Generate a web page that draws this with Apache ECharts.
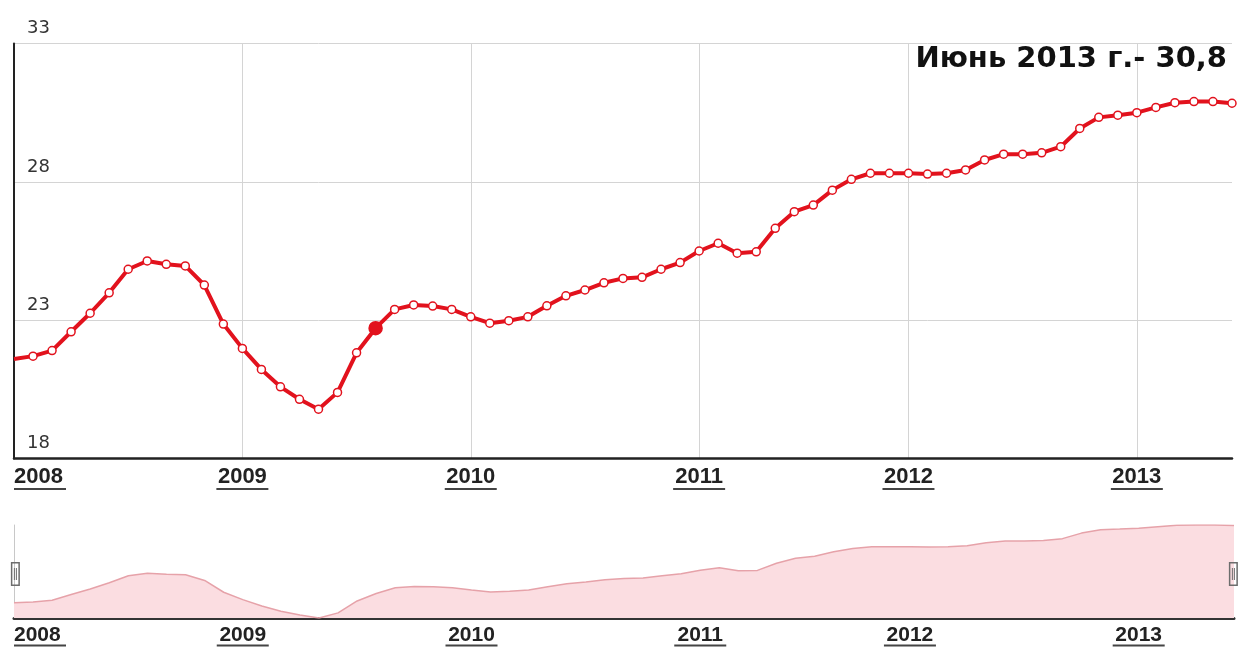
<!DOCTYPE html>
<html>
<head>
<meta charset="utf-8">
<script src="https://cdn.jsdelivr.net/npm/echarts@6/dist/echarts.min.js"></script>
<style>
  html, body { margin: 0; padding: 0; background: #fff; }
  #chart { width: 1239px; height: 648px; }
</style>
</head>
<body>
<div id="chart"></div>
<script>
// месяцы по годам (в 2011 г. на графике 11 точек)
var months2008 = ['2008-01','2008-02','2008-03','2008-04','2008-05','2008-06','2008-07','2008-08','2008-09','2008-10','2008-11','2008-12']
var months2009 = ['2009-01','2009-02','2009-03','2009-04','2009-05','2009-06','2009-07','2009-08','2009-09','2009-10','2009-11','2009-12']
var months2010 = ['2010-01','2010-02','2010-03','2010-04','2010-05','2010-06','2010-07','2010-08','2010-09','2010-10','2010-11','2010-12']
var months2011 = ['2011-01','2011-02','2011-03','2011-04','2011-05','2011-06','2011-07','2011-08','2011-09','2011-10','2011-11']
var months2012 = ['2012-01','2012-02','2012-03','2012-04','2012-05','2012-06','2012-07','2012-08','2012-09','2012-10','2012-11','2012-12']
var months2013 = ['2013-01','2013-02','2013-03','2013-04','2013-05','2013-06']

var values2008 = [21.6, 21.7, 21.9, 22.58, 23.25, 23.99, 24.84, 25.14, 25.02, 24.96, 24.27, 22.86]
var values2009 = [21.98, 21.22, 20.59, 20.14, 19.78, 20.39, 21.82, 22.71, 23.39, 23.55, 23.51, 23.39]
var values2010 = [23.12, 22.89, 22.98, 23.12, 23.52, 23.88, 24.09, 24.35, 24.51, 24.55, 24.84, 25.08]
var values2011 = [25.5, 25.78, 25.42, 25.47, 26.32, 26.92, 27.16, 27.7, 28.09, 28.31, 28.31]
var values2012 = [28.31, 28.28, 28.31, 28.43, 28.79, 29.0, 29.0, 29.05, 29.27, 29.93, 30.33, 30.41]
var values2013 = [30.5, 30.69, 30.86, 30.9, 30.9, 30.84]

var yTicks = [18, 23, 28, 33]
var titleText = 'Июнь 2013 г.- 30,8'
var highlightMonth = '2009-08'

var categories = [].concat(months2008, months2009, months2010, months2011, months2012, months2013)
var values = [].concat(values2008, values2009, values2010, values2011, values2012, values2013)

var RED = '#e2121d'

var mainData = values.map(function (v, i) {
  if (i === 0) return { value: v, symbol: 'none' }
  if (categories[i] === highlightMonth) {
    return { value: v, symbolSize: 13, itemStyle: { color: RED, borderColor: RED } }
  }
  return v
})

function isYearStart(idx, val) {
  return /-01$/.test(val)
}

function yearLabel(val) {
  return '{t|' + val.slice(0, 4) + '}\n{u| }'
}

var labelRich = {
  t: { fontFamily: 'Liberation Sans', fontWeight: 'bold', fontSize: 22, color: '#222', lineHeight: 22 },
  u: { width: 52, height: 2, lineHeight: 3, backgroundColor: '#444' }
}
var navRich = {
  t: { fontFamily: 'Liberation Sans', fontWeight: 'bold', fontSize: 21, color: '#222', lineHeight: 18 },
  u: { width: 52, height: 2, lineHeight: 3, backgroundColor: '#444' }
}

var chart = echarts.init(document.getElementById('chart'))

var option = {
  animation: false,
  backgroundColor: '#fff',
  title: {
    text: titleText,
    right: 12,
    top: 45,
    padding: 0,
    textStyle: { fontFamily: 'DejaVu Sans', fontWeight: 'bold', fontSize: 29, color: '#111' }
  },
  grid: [
    { left: 14, right: 7, top: 43.5, bottom: 189.5, outerBoundsMode: 'none', containLabel: false },
    { left: 14, right: 5, top: 525, bottom: 30, outerBoundsMode: 'none', containLabel: false }
  ],
  xAxis: [
    {
      type: 'category',
      gridIndex: 0,
      data: categories,
      boundaryGap: false,
      axisLine: { show: true, lineStyle: { color: '#222', width: 2.5 } },
      axisTick: { show: false },
      axisLabel: {
        interval: isYearStart,
        margin: 7,
        alignMinLabel: 'left',
        formatter: yearLabel,
        rich: labelRich
      },
      splitLine: { show: true, interval: isYearStart, lineStyle: { color: '#d4d4d4', width: 1 } }
    },
    {
      type: 'category',
      gridIndex: 1,
      data: categories,
      boundaryGap: false,
      axisLine: { show: true, lineStyle: { color: '#333', width: 3 } },
      axisTick: { show: false },
      axisLabel: {
        interval: isYearStart,
        margin: 8,
        alignMinLabel: 'left',
        formatter: yearLabel,
        rich: navRich
      },
      splitLine: { show: false }
    }
  ],
  yAxis: [
    {
      type: 'value',
      gridIndex: 0,
      min: yTicks[0],
      max: yTicks[yTicks.length - 1],
      interval: yTicks[1] - yTicks[0],
      axisLine: { show: true, lineStyle: { color: '#222', width: 2 } },
      axisTick: { show: false },
      axisLabel: {
        inside: true,
        margin: 13,
        verticalAlign: 'bottom',
        padding: [0, 0, 6, 0],
        fontFamily: 'DejaVu Sans',
        fontSize: 18,
        color: '#333'
      },
      splitLine: { show: true, lineStyle: { color: '#d4d4d4', width: 1 } }
    },
    {
      type: 'value',
      gridIndex: 1,
      min: 'dataMin',
      max: 'dataMax',
      axisLine: { show: true, lineStyle: { color: '#c8c8c8', width: 1 } },
      axisTick: { show: false },
      axisLabel: { show: false },
      splitLine: { show: false }
    }
  ],
  dataZoom: [
    {
      type: 'slider',
      xAxisIndex: 0,
      left: 14,
      right: 5,
      top: 562,
      height: 24,
      start: 0,
      end: 100,
      showDataShadow: false,
      showDetail: false,
      brushSelect: false,
      moveHandleSize: 0,
      backgroundColor: 'rgba(0,0,0,0)',
      fillerColor: 'rgba(0,0,0,0)',
      borderColor: 'rgba(0,0,0,0)',
      handleIcon: 'path://M0,0 H9 V24 H0 Z M1.5,1.5 V22.5 H7.5 V1.5 Z M3,6 H4 V18 H3 Z M5,6 H6 V18 H5 Z',
      handleSize: '100%',
      handleStyle: { color: '#6d6d6d', borderWidth: 0 }
    }
  ],
  series: [
    {
      type: 'line',
      xAxisIndex: 0,
      yAxisIndex: 0,
      data: mainData,
      showAllSymbol: true,
      symbol: 'circle',
      symbolSize: 8,
      lineStyle: { color: RED, width: 4 },
      itemStyle: { color: '#fff', borderColor: RED, borderWidth: 1.5 },
      z: 5
    },
    {
      type: 'line',
      xAxisIndex: 1,
      yAxisIndex: 1,
      data: values,
      symbol: 'none',
      lineStyle: { color: '#e6a2a9', width: 1.5 },
      areaStyle: { color: '#fbdde1', opacity: 1 }
    }
  ]
}

chart.setOption(option)
</script>
</body>
</html>
